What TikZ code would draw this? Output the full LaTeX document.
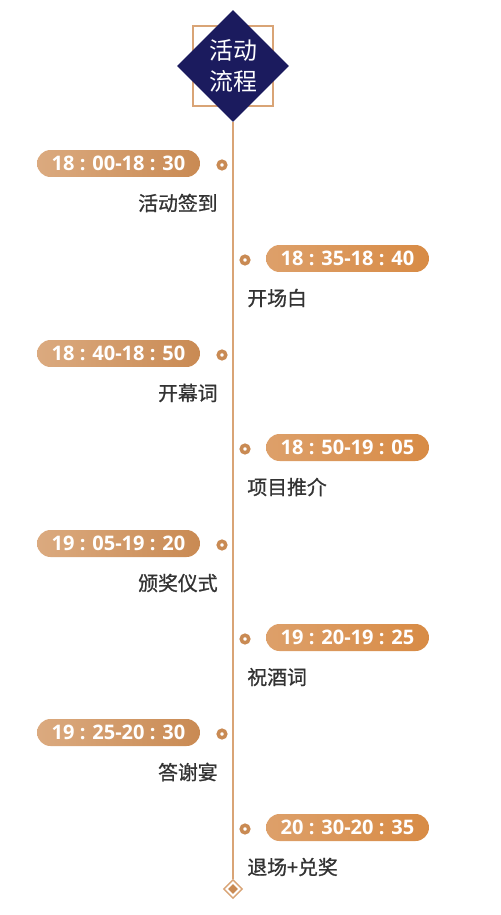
\documentclass[tikz,border=0pt]{standalone}
\usepackage{fontspec}
\usetikzlibrary{shapes.geometric}
\newfontfamily\cjk{Noto Sans CJK SC}
\newfontfamily\cjkbold{Noto Sans CJK SC}[FakeBold=0.9]
\newfontfamily\numfont{Open Sans}
\definecolor{navy}{HTML}{1B1B5E}
\definecolor{tan}{HTML}{D9A476}
\definecolor{tanA}{HTML}{DBAA7F}
\definecolor{tanB}{HTML}{C98A53}
\definecolor{ornA}{HTML}{DDA06A}
\definecolor{ornB}{HTML}{D88B45}
\definecolor{labelgray}{HTML}{333333}
\begin{document}
\begin{tikzpicture}[x=0.02cm,y=-0.02cm,
  timepill/.style={rounded corners=0.27cm,minimum width=3.26cm,minimum height=0.54cm,inner sep=0pt,text=white,font=\numfont\bfseries\fontsize{11.4}{13}\selectfont},
  leftpill/.style={timepill,left color=tanA,right color=tanB},
  rightpill/.style={timepill,left color=ornA,right color=ornB},
  ringdot/.style={circle,draw=tanB,fill=white,line width=2pt,minimum size=0.15cm,inner sep=0pt},
  item/.style={inner sep=0pt,text=labelgray,font=\cjkbold\fontsize{11.3}{13}\selectfont}]
\useasboundingbox (0,0) rectangle (500,915);
\node[draw=tan,line width=0.6pt,minimum size=1.6cm] (frame) at (233,66) {};
\node[diamond,fill=navy,minimum width=2.24cm,minimum height=2.24cm,inner sep=0pt,align=center,text=white,font=\cjk\fontsize{13.6}{17.6}\selectfont] (title) at (233,66) {活动\\流程};
\node[diamond,draw=tan,fill=white,line width=0.8pt,minimum size=0.38cm,inner sep=0pt] (finish) at (233,889) {};
\node[diamond,fill=tanB,minimum size=0.2cm,inner sep=0pt] (finishcore) at (finish) {};
\draw[tan,line width=0.8pt] (title.south) -- (finish.north);

\node[leftpill] (t1) at (118.5,163.5) {18 : 00-18 : 30};
\node[ringdot] (d1) at (222,165) {};
\node[item,anchor=east] (a1) at (218,203) {活动签到};

\node[rightpill] (t2) at (347.5,258.5) {18 : 35-18 : 40};
\node[ringdot] (d2) at (245,260) {};
\node[item,anchor=west] (a2) at (247,298) {开场白};

\node[leftpill] (t3) at (118.5,353.5) {18 : 40-18 : 50};
\node[ringdot] (d3) at (222,355) {};
\node[item,anchor=east] (a3) at (218,393) {开幕词};

\node[rightpill] (t4) at (347.5,447.5) {18 : 50-19 : 05};
\node[ringdot] (d4) at (245,449) {};
\node[item,anchor=west] (a4) at (247,487) {项目推介};

\node[leftpill] (t5) at (118.5,543.5) {19 : 05-19 : 20};
\node[ringdot] (d5) at (222,545) {};
\node[item,anchor=east] (a5) at (218,583) {颁奖仪式};

\node[rightpill] (t6) at (347.5,637.5) {19 : 20-19 : 25};
\node[ringdot] (d6) at (245,639) {};
\node[item,anchor=west] (a6) at (247,677) {祝酒词};

\node[leftpill] (t7) at (118.5,732.5) {19 : 25-20 : 30};
\node[ringdot] (d7) at (222,734) {};
\node[item,anchor=east] (a7) at (218,772) {答谢宴};

\node[rightpill] (t8) at (347.5,827.5) {20 : 30-20 : 35};
\node[ringdot] (d8) at (245,829) {};
\node[item,anchor=west] (a8) at (247,867) {退场+兑奖};
\end{tikzpicture}
\end{document}
